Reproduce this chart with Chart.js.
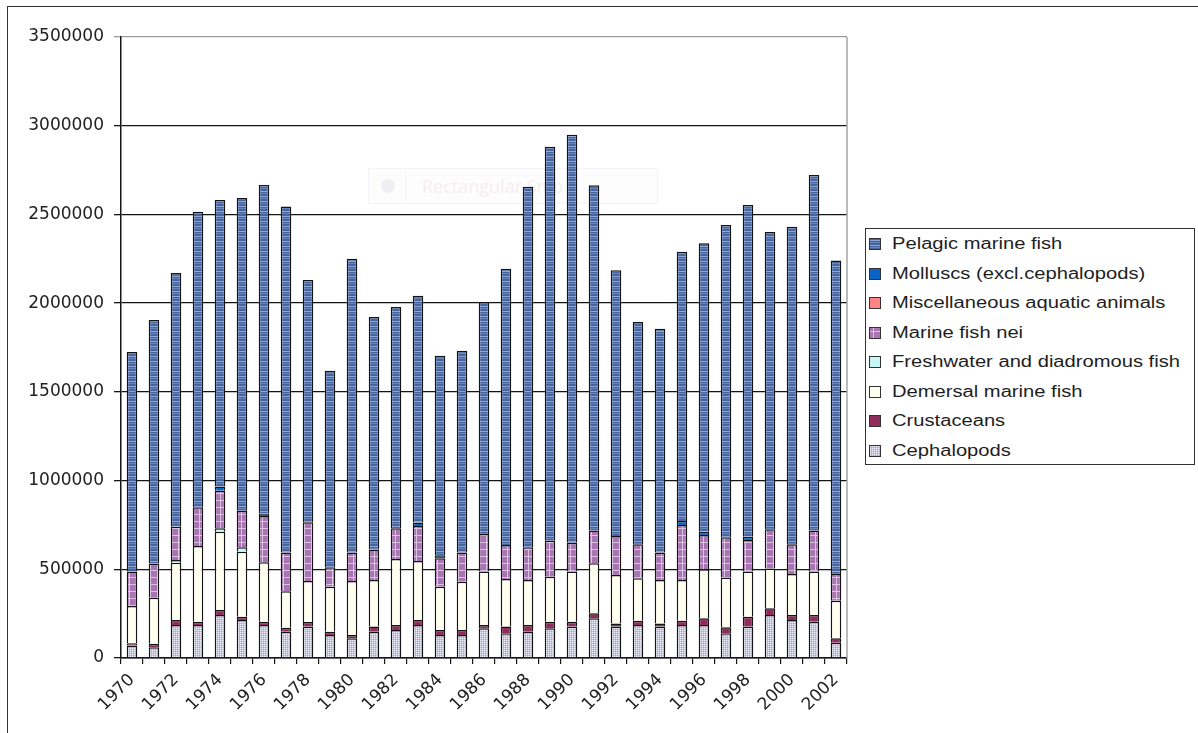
<!DOCTYPE html>
<html>
<head>
<meta charset="utf-8">
<script src="https://cdn.jsdelivr.net/npm/chart.js@4.4.1/dist/chart.umd.min.js"></script>
<style>
  body { margin:0; background:#fff; width:1198px; height:733px; overflow:hidden; position:relative;
         font-family:'Liberation Sans', Arial, sans-serif; }
  #frame { position:absolute; left:7px; top:6px; right:-2px; bottom:-2px;
           border-top:1.5px solid #333; border-left:1.5px solid #333; }
  #snip { position:absolute; left:368px; top:168px; width:288px; height:34px;
          border:1px solid #f0f3f8; background:#fdfdfe; }
  #snip .dot { position:absolute; left:12px; top:10px; width:14px; height:14px; border-radius:50%; background:#eeeef3; }
  #snip .sep { position:absolute; left:36px; top:0; width:1px; height:34px; background:#f3f5f9; }
  #snip .txt { position:absolute; left:53px; top:5px; font-family:'Open Sans', sans-serif; font-size:18px; color:#f4eeee; }
  #wrap { position:absolute; left:0; top:0; width:860px; height:733px; }
  #legend { position:absolute; left:865px; top:228px; width:328px; height:235px;
            border:1.5px solid #333; background:#fff; }
  .item { position:absolute; left:3px; height:20px; display:flex; align-items:center; }
  .item canvas { width:10px; height:10px; border:1px solid #333; }
  .item span { margin-left:11px; font-size:16px; color:#1e1e1e; white-space:nowrap;
               transform:scaleX(1.26); transform-origin:left center; }
</style>
</head>
<body>
<div id="frame"></div>
<div id="snip"><div class="dot"></div><div class="sep"></div><div class="txt">Rectangular Snip</div></div>
<div id="wrap"><canvas id="catchChart"></canvas></div>
<div id="legend"></div>
<script>
'use strict';

// ── Data (tonnes) ─────────────────────────────────────────────
const years = ['1970','1971','1972','1973','1974','1975','1976','1977','1978','1979','1980',
               '1981','1982','1983','1984','1985','1986','1987','1988','1989','1990',
               '1991','1992','1993','1994','1995','1996','1997','1998','1999','2000','2001','2002'];

const cephalopods = [70000, 60000, 186000, 186000, 242000, 214000, 186000, 148000, 177000, 130000, 111000,
                     148000, 158000, 186000, 130000, 130000, 167000, 139000, 148000, 167000, 177000,
                     224000, 177000, 186000, 177000, 186000, 186000, 139000, 177000, 242000, 214000, 205000, 86000];
const crustaceans = [13000, 21000, 28000, 19000, 28000, 19000, 19000, 23000, 26000, 18000, 19000,
                     29000, 28000, 28000, 28000, 28000, 19000, 38000, 38000, 38000, 28000,
                     28000, 18000, 24000, 18000, 24000, 38000, 34000, 56000, 38000, 28000, 37000, 25000];
const demersal    = [210000, 259000, 323000, 426000, 442000, 366000, 334000, 205000, 231000, 254000, 304000,
                     263000, 372000, 333000, 244000, 272000, 301000, 268000, 254000, 253000, 282000,
                     282000, 273000, 239000, 245000, 230000, 276000, 280000, 254000, 225000, 231000, 245000, 212000];
const freshwater  = [0, 0, 15000, 0, 19000, 25000, 0, 0, 0, 0, 0,
                     0, 0, 0, 0, 0, 0, 0, 0, 0, 0,
                     0, 0, 0, 0, 0, 0, 0, 0, 0, 0, 0, 0];
const marineNei   = [194000, 192000, 188000, 218000, 212000, 206000, 261000, 218000, 331000, 109000, 160000,
                     172000, 173000, 197000, 160000, 164000, 212000, 192000, 184000, 203000, 163000,
                     184000, 220000, 192000, 154000, 310000, 193000, 227000, 178000, 220000, 168000, 231000, 150000];
const miscAquatic = [0, 0, 0, 0, 0, 0, 0, 0, 0, 0, 0,
                     0, 0, 0, 0, 0, 0, 0, 0, 0, 0,
                     0, 0, 0, 0, 0, 0, 0, 0, 0, 0, 0, 0];
const molluscs    = [0, 0, 0, 0, 23000, 0, 15000, 0, 0, 0, 0,
                     0, 0, 19000, 17000, 0, 0, 0, 0, 0, 0,
                     0, 0, 0, 0, 22000, 19000, 0, 19000, 0, 0, 0, 0];
const pelagic     = [1238000, 1373000, 1430000, 1666000, 1615000, 1763000, 1851000, 1950000, 1365000, 1108000, 1656000,
                     1310000, 1247000, 1279000, 1125000, 1138000, 1307000, 1557000, 2032000, 2221000, 2299000,
                     1946000, 1497000, 1253000, 1262000, 1518000, 1625000, 1760000, 1869000, 1676000, 1790000, 2004000, 1768000];

const yTicks = { min: 0, max: 3500000, step: 500000 };

// ── Fill patterns ─────────────────────────────────────────────
function tile(w, h, paint) {
  const c = document.createElement('canvas');
  c.width = w; c.height = h;
  paint(c.getContext('2d'));
  return c;
}

const tiles = {
  pelagic: tile(16, 5, g => {
    g.fillStyle = '#46659e'; g.fillRect(0, 0, 16, 5);
    g.fillStyle = '#8ea5d8'; g.fillRect(0, 1, 16, 1);
    g.fillStyle = '#6783bd'; g.fillRect(0, 3, 16, 1);
  }),
  molluscs:   tile(2, 2, g => { g.fillStyle = '#0a64c8'; g.fillRect(0, 0, 2, 2); }),
  misc:       tile(2, 2, g => { g.fillStyle = '#ff8484'; g.fillRect(0, 0, 2, 2); }),
  marineNei: tile(7, 7, g => {
    g.fillStyle = '#a874b2'; g.fillRect(0, 0, 7, 7);
    g.fillStyle = '#dcc2e4'; g.fillRect(3, 0, 1, 7); g.fillRect(0, 3, 7, 1);
  }),
  freshwater: tile(2, 2, g => { g.fillStyle = '#c6f6f6'; g.fillRect(0, 0, 2, 2); }),
  demersal:   tile(2, 2, g => { g.fillStyle = '#fffff0'; g.fillRect(0, 0, 2, 2); }),
  crustaceans: tile(2, 2, g => { g.fillStyle = '#8e2c5c'; g.fillRect(0, 0, 2, 2); }),
  cephalopods: tile(2, 2, g => {
    g.fillStyle = '#bdbdfd'; g.fillRect(0, 0, 2, 2);
    g.fillStyle = '#f0f0ff'; g.fillRect(0, 0, 1, 1);
    g.fillStyle = '#a6a6f4'; g.fillRect(1, 1, 1, 1);
  }),
};

const ctx = document.getElementById('catchChart').getContext('2d');
const pat = key => ctx.createPattern(tiles[key], 'repeat');

// bottom of the stack first
const series = [
  { label: 'Cephalopods',                    data: cephalopods, key: 'cephalopods' },
  { label: 'Crustaceans',                    data: crustaceans, key: 'crustaceans' },
  { label: 'Demersal marine fish',           data: demersal,    key: 'demersal' },
  { label: 'Freshwater and diadromous fish', data: freshwater,  key: 'freshwater' },
  { label: 'Marine fish nei',                data: marineNei,   key: 'marineNei' },
  { label: 'Miscellaneous aquatic animals',  data: miscAquatic, key: 'misc' },
  { label: 'Molluscs (excl.cephalopods)',    data: molluscs,    key: 'molluscs' },
  { label: 'Pelagic marine fish',            data: pelagic,     key: 'pelagic' },
];

// gray right edge of the plot area
const plotEdge = {
  id: 'plotEdge',
  beforeDatasetsDraw(chart) {
    const a = chart.chartArea, g = chart.ctx;
    g.save();
    g.strokeStyle = '#a4a4a4';
    g.lineWidth = 1.5;
    g.beginPath();
    g.moveTo(a.right, a.top);
    g.lineTo(a.right, a.bottom);
    g.stroke();
    g.restore();
  },
};

const tickFont = { family: "'DejaVu Sans', sans-serif", size: 17 };

new Chart(ctx, {
  type: 'bar',
  data: {
    labels: years,
    datasets: series.map(s => ({
      label: s.label,
      data: s.data,
      backgroundColor: pat(s.key),
      borderColor: '#141414',
      borderWidth: 1.5,
      barPercentage: 0.48,
      categoryPercentage: 1,
    })),
  },
  options: {
    responsive: true,
    maintainAspectRatio: false,
    animation: false,
    layout: { padding: { top: 37, right: 13, left: 0, bottom: 0 } },
    plugins: { legend: { display: false }, tooltip: { enabled: false } },
    scales: {
      x: {
        stacked: true,
        grid: { offset: true, drawOnChartArea: false, color: '#151515', tickLength: 6, lineWidth: 1.2 },
        border: { color: '#151515', width: 1.5 },
        ticks: {
          autoSkip: false, minRotation: 45, maxRotation: 45, padding: 6,
          color: '#222', font: tickFont,
          callback: (v, i) => (i % 2 === 0 ? years[i] : ''),
        },
        afterFit: s => { s.height = 75; },
      },
      y: {
        stacked: true,
        min: yTicks.min,
        max: yTicks.max,
        ticks: { stepSize: yTicks.step, padding: 10, color: '#222', font: tickFont, callback: v => String(v) },
        grid: {
          color: c => (c.tick && c.tick.value === yTicks.max ? '#9c9c9c' : '#151515'),
          lineWidth: 1.3,
          tickLength: 7,
        },
        border: { color: '#151515', width: 1.5 },
        afterFit: s => { s.width = 121; },
      },
    },
  },
  plugins: [plotEdge],
});

// ── HTML legend (top of stack listed first) ───────────────────
const legendEl = document.getElementById('legend');
series.slice().reverse().forEach((s, i) => {
  const row = document.createElement('div');
  row.className = 'item';
  row.style.top = (5 + i * 29.5) + 'px';
  const sw = document.createElement('canvas');
  sw.width = 10; sw.height = 10;
  const g = sw.getContext('2d');
  g.fillStyle = g.createPattern(tiles[s.key], 'repeat');
  g.fillRect(0, 0, 10, 10);
  const txt = document.createElement('span');
  txt.textContent = s.label;
  row.appendChild(sw);
  row.appendChild(txt);
  legendEl.appendChild(row);
});
</script>
</body>
</html>
